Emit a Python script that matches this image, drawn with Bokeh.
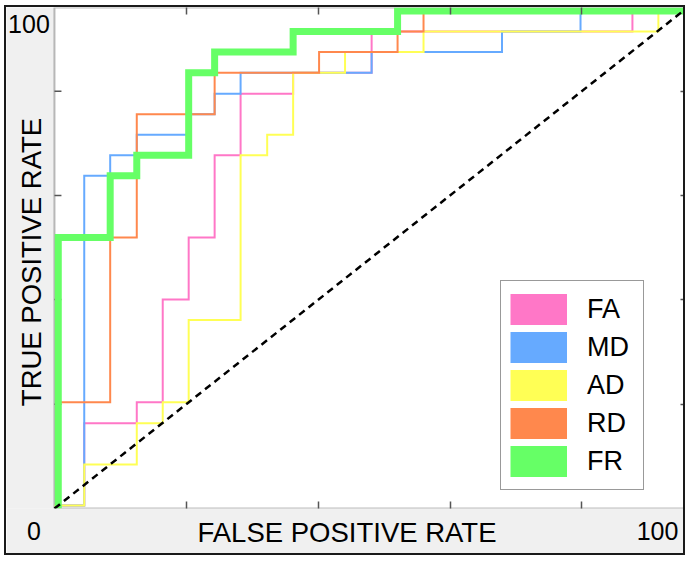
from math import pi
from bokeh.plotting import figure
from bokeh.models import (Range1d, LinearAxis, FixedTicker, Legend, LegendItem, Label,
                          BoxAnnotation)
from bokeh.embed import file_html
from bokeh.resources import INLINE

# ---- data (percent) ----
series_names = ["FA", "MD", "AD", "RD", "FR"]
series_colors = ["#ff77c7", "#66aaff", "#ffff55", "#ff884d", "#66ff66"]

fa_fpr = [0.6, 4.7, 4.7, 13.0, 13.0, 17.1, 17.1, 21.2, 21.2, 25.3, 25.3, 29.4, 29.4, 37.7, 37.7, 50.1, 50.1, 91.3, 91.3, 99.6]
fa_tpr = [0.6, 0.6, 17.0, 17.0, 21.2, 21.2, 41.7, 41.7, 54.1, 54.1, 70.5, 70.5, 82.8, 82.8, 87.0, 87.0, 95.2, 95.2, 99.3, 99.3]

md_fpr = [0.6, 4.7, 4.7, 8.8, 8.8, 13.0, 13.0, 21.2, 21.2, 25.3, 25.3, 29.4, 29.4, 50.1, 50.1, 70.7, 70.7, 83.1, 83.1, 99.6]
md_tpr = [0.6, 0.6, 66.4, 66.4, 70.5, 70.5, 74.6, 74.6, 78.7, 78.7, 82.8, 82.8, 87.0, 87.0, 91.1, 91.1, 95.2, 95.2, 99.3, 99.3]

ad_fpr = [0.0, 4.7, 4.7, 13.0, 13.0, 17.1, 17.1, 21.2, 21.2, 29.4, 29.4, 33.6, 33.6, 37.7, 37.7, 45.9, 45.9, 58.3, 58.3, 95.4, 95.4, 99.6]
ad_tpr = [0.6, 0.6, 8.8, 8.8, 17.0, 17.0, 21.2, 21.2, 37.6, 37.6, 70.5, 70.5, 74.6, 74.6, 87.0, 87.0, 91.1, 91.1, 95.2, 95.2, 99.3, 99.3]

rd_fpr = [0.6, 0.6, 8.8, 8.8, 13.0, 13.0, 25.3, 25.3, 41.8, 41.8, 54.2, 54.2, 58.3, 58.3, 99.6]
rd_tpr = [0.6, 21.2, 21.2, 54.1, 54.1, 78.7, 78.7, 87.0, 87.0, 91.1, 91.1, 95.2, 95.2, 99.3, 99.3]

fr_fpr = [0.6, 0.6, 8.8, 8.8, 13.0, 13.0, 21.2, 21.2, 25.3, 25.3, 37.7, 37.7, 54.2, 54.2, 100.0]
fr_tpr = [0.0, 54.1, 54.1, 66.4, 66.4, 70.5, 70.5, 87.0, 87.0, 91.1, 91.1, 95.2, 95.2, 99.3, 99.3]

diag_x = [0, 100]
diag_y = [0, 100]

tick_positions = [20.8, 41.7, 62.5, 83.3]
x_title = "FALSE POSITIVE RATE"
y_title = "TRUE POSITIVE RATE"
corner_min = "0"
corner_max = "100"

FONT = "Liberation Sans"

# ---- layout constants (data units) ----
X_LEFT_EDGE = -7.58          # the grey strip left of the plot box lies in the frame
X_MIN_LABEL_AT = -3.24
X_MAX_LABEL_AT = 95.26
TICK_LEN = 1.1

p = figure(width=681, height=550, output_backend="svg", toolbar_location=None,
           x_range=Range1d(X_LEFT_EDGE, 100), y_range=Range1d(0, 100),
           y_axis_location=None,
           min_border_left=0, min_border_right=0, min_border_top=0, min_border_bottom=49,
           background_fill_color="#f0f0f0", border_fill_color="#f0f0f0",
           outline_line_color=None)
p.styles = {"margin-left": "4px", "margin-top": "5px", "border": "2px solid #1a1a1a"}
p.grid.visible = False

# white plot box with its dark edge
p.add_layout(BoxAnnotation(left=0, right=100, bottom=0, top=100, fill_color="white",
                           fill_alpha=1.0, line_color="#222222", line_width=2,
                           level="underlay"))

p.add_layout(LinearAxis(), "above")
p.add_layout(LinearAxis(), "right")
for ax in p.axis:
    ax.axis_line_color = None
    ax.major_tick_line_color = None
    ax.major_tick_in = 0
    ax.major_tick_out = 0
    ax.minor_tick_in = 7
    ax.minor_tick_out = 0
    ax.minor_tick_line_color = "#555555"
    ax.minor_tick_line_width = 1.5
    ax.major_label_text_font = FONT
    ax.major_label_text_color = "black"
    ax.major_label_text_font_size = "25px"
    ax.axis_label_text_font = FONT
    ax.axis_label_text_font_style = "normal"
    ax.axis_label_text_color = "black"
    ax.axis_label_text_font_size = "27.5px"

for ax in (p.above[0], p.right[0]):
    ax.ticker = FixedTicker(ticks=[], minor_ticks=tick_positions)

xb = p.below[0]
xb.ticker = FixedTicker(ticks=[X_MIN_LABEL_AT, X_MAX_LABEL_AT], minor_ticks=tick_positions)
xb.major_label_overrides = {X_MIN_LABEL_AT: corner_min, X_MAX_LABEL_AT: corner_max}
xb.major_label_standoff = 13
xb.axis_label = x_title
xb.axis_label_standoff = -26

# inward ticks on the left edge of the plot box
p.segment(x0=[0] * len(tick_positions), x1=[TICK_LEN] * len(tick_positions),
          y0=tick_positions, y1=tick_positions, line_color="#555555", line_width=1.5)

data = [(fa_fpr, fa_tpr), (md_fpr, md_tpr), (ad_fpr, ad_tpr), (rd_fpr, rd_tpr), (fr_fpr, fr_tpr)]
widths = [2, 2, 2, 2, 7]
for (xs, ys), c, w in zip(data, series_colors, widths):
    p.line(xs, ys, line_color=c, line_width=w, line_join="miter")

p.line(diag_x, diag_y, line_color="black", line_width=2.5, line_dash="7 5")

# hidden twins of the series, used only to draw filled swatches in the legend
items = []
for name, (xs, ys), c in zip(series_names, data, series_colors):
    r = p.line(xs, ys, line_color=c, line_width=31, line_cap="butt", visible=False)
    items.append(LegendItem(label=name, renderers=[r]))
legend = Legend(items=items, location=(494, 18), glyph_width=57, glyph_height=38,
                label_width=47, label_height=38, label_standoff=20, padding=9, spacing=0,
                margin=0, border_line_color="#333333", border_line_width=1.5,
                background_fill_color="white", background_fill_alpha=1.0,
                inactive_fill_alpha=0.0,
                label_text_font=FONT, label_text_font_size="27px",
                label_text_baseline="middle", label_text_color="black")
p.add_layout(legend)

p.add_layout(Label(x=-3.6, y=49.2, text=y_title, angle=pi / 2, text_font=FONT,
                   text_font_size="27.5px", text_align="center", text_baseline="middle",
                   text_color="black"))
p.add_layout(Label(x=-4.03, y=96.7, text=corner_max, text_font=FONT,
                   text_font_size="25px", text_align="center", text_baseline="middle",
                   text_color="black"))

open("out.html", "w").write(file_html(p, INLINE))
